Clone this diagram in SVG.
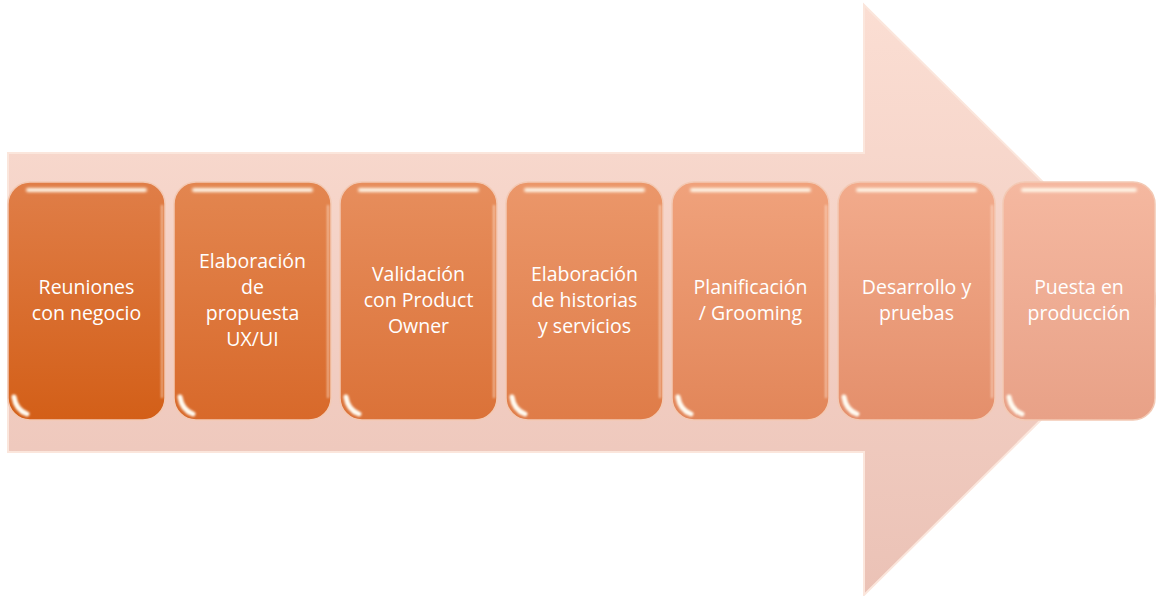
<svg xmlns="http://www.w3.org/2000/svg" width="1156" height="596" viewBox="0 0 1156 596">
<style>
.lbl{font-family:"Open Sans","Liberation Sans",sans-serif;font-size:19.5px;fill:#ffffff;text-anchor:middle}
.box{stroke:#f3c9b4;stroke-width:1.5}
.gloss{fill:none;stroke:#fff6e8;stroke-width:4;stroke-linecap:round;filter:url(#blur)}
.corner{fill:none;stroke:#fffaf0;stroke-width:5;stroke-linecap:round;filter:url(#blur1)}
.edge{fill:none;stroke:#ffe8d8;stroke-width:2;opacity:0.6;filter:url(#blur1)}
</style>
<defs>
<filter id="blur" filterUnits="userSpaceOnUse" x="0" y="0" width="1156" height="596"><feGaussianBlur stdDeviation="1.5"/></filter>
<filter id="blur1" filterUnits="userSpaceOnUse" x="0" y="0" width="1156" height="596"><feGaussianBlur stdDeviation="1"/></filter>
<linearGradient id="ga" x1="0" y1="0" x2="0" y2="1"><stop offset="0" stop-color="#fbded3"/><stop offset="1" stop-color="#ebc2b6"/></linearGradient>
<linearGradient id="g1" x1="0" y1="0" x2="0" y2="1"><stop offset="0" stop-color="#e07e48"/><stop offset="1" stop-color="#d35f18"/></linearGradient>
<linearGradient id="g2" x1="0" y1="0" x2="0" y2="1"><stop offset="0" stop-color="#e38650"/><stop offset="1" stop-color="#d8692a"/></linearGradient>
<linearGradient id="g3" x1="0" y1="0" x2="0" y2="1"><stop offset="0" stop-color="#e78e5d"/><stop offset="1" stop-color="#db7238"/></linearGradient>
<linearGradient id="g4" x1="0" y1="0" x2="0" y2="1"><stop offset="0" stop-color="#eb976a"/><stop offset="1" stop-color="#df7c48"/></linearGradient>
<linearGradient id="g5" x1="0" y1="0" x2="0" y2="1"><stop offset="0" stop-color="#f0a27c"/><stop offset="1" stop-color="#e28659"/></linearGradient>
<linearGradient id="g6" x1="0" y1="0" x2="0" y2="1"><stop offset="0" stop-color="#f2ab8c"/><stop offset="1" stop-color="#e48f6b"/></linearGradient>
<linearGradient id="g7" x1="0" y1="0" x2="0" y2="1"><stop offset="0" stop-color="#f5b8a0"/><stop offset="1" stop-color="#e8a187"/></linearGradient>
</defs>

<g id="arrow">
<polygon points="8,153 864,153 864,5 1162,300 864,595 864,452 8,452" fill="url(#ga)" stroke="#fbe6dc" stroke-width="2"/>
</g>

<g id="connectors"></g>

<g id="n1">
<rect class="box" x="8" y="182" width="157" height="238" rx="22" fill="url(#g1)"/>
<path class="gloss" d="M28,190 L145,190"/>
<path class="edge" d="M162,205 L162,398"/>
<path class="corner" d="M14,397 Q16,410 27,414"/>
<text class="lbl" x="86.5" y="294">Reuniones</text>
<text class="lbl" x="86.5" y="320">con negocio</text>
</g>

<g id="n2">
<rect class="box" x="174" y="182" width="157" height="238" rx="22" fill="url(#g2)"/>
<path class="gloss" d="M194,190 L311,190"/>
<path class="edge" d="M328,205 L328,398"/>
<path class="corner" d="M180,397 Q182,410 193,414"/>
<text class="lbl" x="252.5" y="268">Elaboración</text>
<text class="lbl" x="252.5" y="294">de</text>
<text class="lbl" x="252.5" y="320">propuesta</text>
<text class="lbl" x="252.5" y="346">UX/UI</text>
</g>

<g id="n3">
<rect class="box" x="340" y="182" width="157" height="238" rx="22" fill="url(#g3)"/>
<path class="gloss" d="M360,190 L477,190"/>
<path class="edge" d="M494,205 L494,398"/>
<path class="corner" d="M346,397 Q348,410 359,414"/>
<text class="lbl" x="418.5" y="281">Validación</text>
<text class="lbl" x="418.5" y="307">con Product</text>
<text class="lbl" x="418.5" y="333">Owner</text>
</g>

<g id="n4">
<rect class="box" x="506" y="182" width="157" height="238" rx="22" fill="url(#g4)"/>
<path class="gloss" d="M526,190 L643,190"/>
<path class="edge" d="M660,205 L660,398"/>
<path class="corner" d="M512,397 Q514,410 525,414"/>
<text class="lbl" x="584.5" y="281">Elaboración</text>
<text class="lbl" x="584.5" y="307">de historias</text>
<text class="lbl" x="584.5" y="333">y servicios</text>
</g>

<g id="n5">
<rect class="box" x="672" y="182" width="157" height="238" rx="22" fill="url(#g5)"/>
<path class="gloss" d="M692,190 L809,190"/>
<path class="edge" d="M826,205 L826,398"/>
<path class="corner" d="M678,397 Q680,410 691,414"/>
<text class="lbl" x="750.5" y="294">Planificación</text>
<text class="lbl" x="750.5" y="320">/ Grooming</text>
</g>

<g id="n6">
<rect class="box" x="838" y="182" width="157" height="238" rx="22" fill="url(#g6)"/>
<path class="gloss" d="M858,190 L975,190"/>
<path class="edge" d="M992,205 L992,398"/>
<path class="corner" d="M844,397 Q846,410 857,414"/>
<text class="lbl" x="916.5" y="294">Desarrollo y</text>
<text class="lbl" x="916.5" y="320">pruebas</text>
</g>

<g id="n7">
<rect class="box" x="1003" y="182" width="152" height="238" rx="22" fill="url(#g7)"/>
<path class="gloss" d="M1023,190 L1135,190"/>
<path class="corner" d="M1009,397 Q1011,410 1022,414"/>
<text class="lbl" x="1079" y="294">Puesta en</text>
<text class="lbl" x="1079" y="320">producción</text>
</g>
</svg>
